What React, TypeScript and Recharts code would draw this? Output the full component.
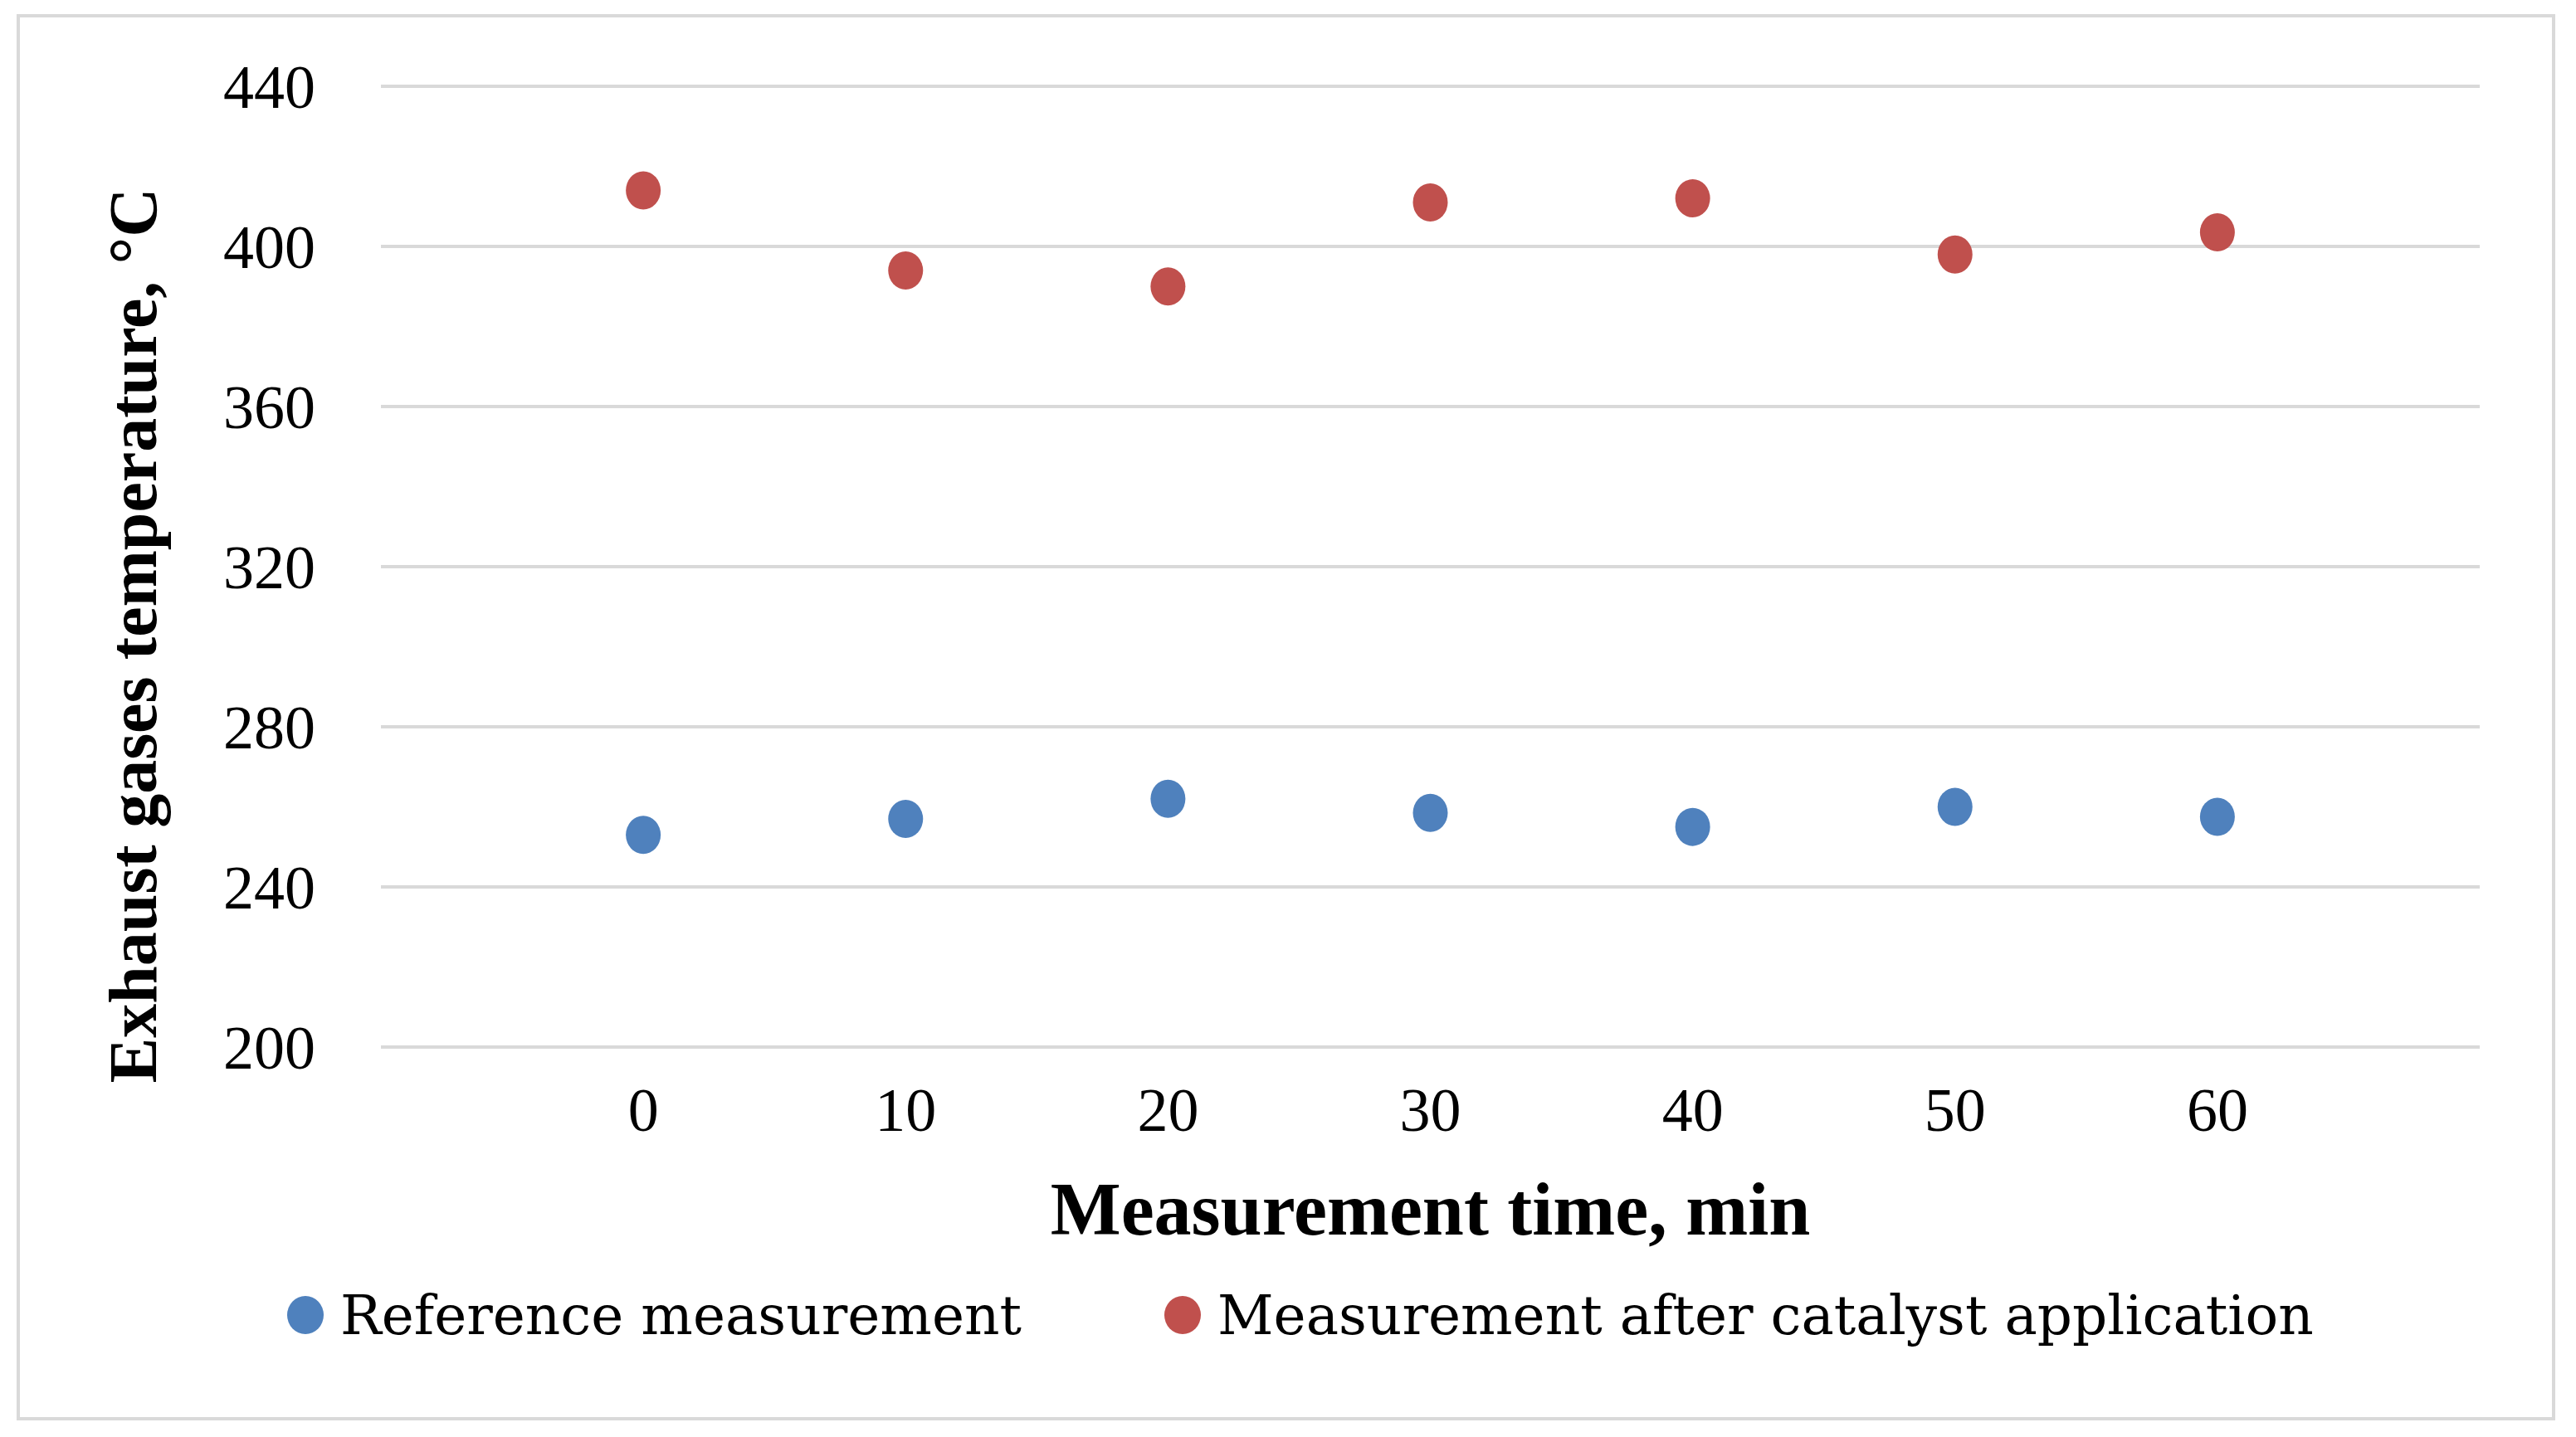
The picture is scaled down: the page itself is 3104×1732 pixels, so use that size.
import React from 'react';
import { ScatterChart, Scatter, XAxis, YAxis, CartesianGrid, Legend, Label } from 'recharts';

const times = [0, 10, 20, 30, 40, 50, 60];
const referenceTemps = [253, 257, 262, 258.5, 255, 260, 257.5];
const catalystTemps = [414, 394, 390, 411, 412, 398, 403.5];
const seriesNames = ['Reference measurement', 'Measurement after catalyst application'];

const xTicks = [0, 10, 20, 30, 40, 50, 60];
const yTicks = [200, 240, 280, 320, 360, 400, 440];

const referenceData = times.map((t, i) => ({ time: t, temp: referenceTemps[i] }));
const catalystData = times.map((t, i) => ({ time: t, temp: catalystTemps[i] }));

const BLUE = '#4F81BD';
const RED = '#C0504D';
const GRID = '#d9d9d9';
const TICK_FONT = '"Liberation Serif", serif';
const TITLE_FONT = '"Liberation Serif", serif';
const LEGEND_FONT = '"DejaVu Serif", serif';

// Excel-style filled marker, slightly taller than wide like the source image
const Dot = (props: any) => {
  if (props.cx == null || props.cy == null) return null;
  return <ellipse cx={props.cx} cy={props.cy} rx={21} ry={23} fill={props.fill} />;
};

function YTitle({ viewBox }: any) {
  const x = viewBox.x + 166;
  const y = viewBox.y + viewBox.height / 2 + 83;
  return (
    <text
      x={x}
      y={y}
      transform={`rotate(-90, ${x}, ${y})`}
      textAnchor="middle"
      fontFamily={TITLE_FONT}
      fontWeight="bold"
      fontSize={82}
      fill="#000"
    >
      Exhaust gases  temperature, °C
    </text>
  );
}

function XTitle({ viewBox }: any) {
  const x = viewBox.x + viewBox.width / 2;
  const y = viewBox.y + 226;
  return (
    <text x={x} y={y} textAnchor="middle" fontFamily={TITLE_FONT} fontWeight="bold" fontSize={90} fill="#000">
      Measurement time, min
    </text>
  );
}

function LegendContent({ payload }: any) {
  const items = [...(payload || [])].sort(
    (a: any, b: any) => seriesNames.indexOf(a.value) - seriesNames.indexOf(b.value)
  );
  return (
    <div style={{ display: 'flex', alignItems: 'center', height: 90, fontFamily: LEGEND_FONT, fontSize: 66, color: '#000' }}>
      {items.map((entry: any, i: number) => (
        <div key={entry.value} style={{ display: 'flex', alignItems: 'center', marginRight: i === 0 ? 172 : 0 }}>
          <svg width={44} height={46} style={{ marginRight: 20 }}>
            <ellipse cx={22} cy={23} rx={22} ry={23} fill={entry.color} />
          </svg>
          <span style={{ whiteSpace: 'nowrap' }}>{entry.value}</span>
        </div>
      ))}
    </div>
  );
}

export default function App() {
  return (
    <div style={{ position: 'absolute', left: 0, top: 0, width: 3104, height: 1732, background: '#fff' }}>
      <div
        style={{
          position: 'absolute',
          left: 20,
          top: 17,
          width: 3059,
          height: 1695,
          border: `4px solid ${GRID}`,
          boxSizing: 'border-box',
        }}
      />
      <ScatterChart
        width={3104}
        height={1732}
        margin={{ top: 104, right: 116, bottom: 170, left: 22 }}
        style={{ position: 'absolute', left: 0, top: 0 }}
      >
        <CartesianGrid vertical={false} stroke={GRID} strokeWidth={4} />
        <XAxis
          dataKey="time"
          type="number"
          domain={[-10, 70]}
          ticks={xTicks}
          allowDataOverflow
          axisLine={false}
          tickLine={false}
          tickSize={0}
          tickMargin={48}
          height={300}
          tick={{ fontFamily: TICK_FONT, fontSize: 74, fill: '#000' }}
        >
          <Label content={XTitle} />
        </XAxis>
        <YAxis
          dataKey="temp"
          type="number"
          domain={[200, 440]}
          ticks={yTicks}
          allowDataOverflow
          axisLine={false}
          tickLine={false}
          tickSize={0}
          tickMargin={79}
          width={437}
          tick={{ fontFamily: TICK_FONT, fontSize: 74, fill: '#000' }}
        >
          <Label content={YTitle} />
        </YAxis>
        <Legend
          verticalAlign="middle"
          align="center"
          content={LegendContent}
          wrapperStyle={{ left: 346, top: 1540, width: 2600, height: 90 }}
        />
        <Scatter name={seriesNames[0]} data={referenceData} fill={BLUE} shape={Dot} isAnimationActive={false} />
        <Scatter name={seriesNames[1]} data={catalystData} fill={RED} shape={Dot} isAnimationActive={false} />
      </ScatterChart>
    </div>
  );
}
